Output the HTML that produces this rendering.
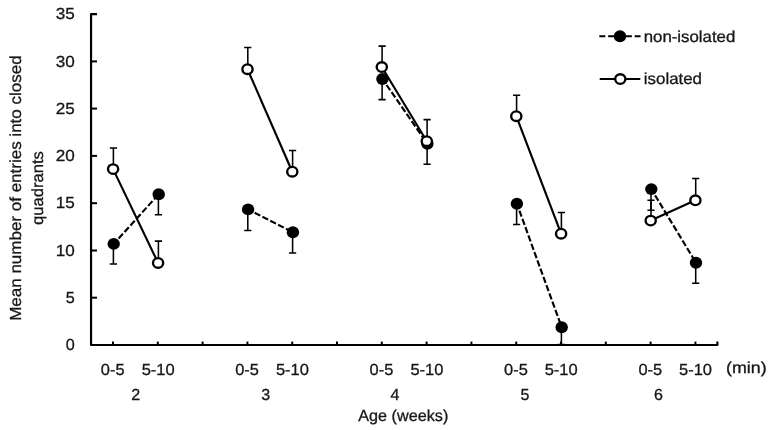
<!DOCTYPE html>
<html lang="en"><head><meta charset="utf-8"><title>Chart</title>
<style>html,body{margin:0;padding:0;background:#fff}svg{display:block;will-change:transform}text{text-rendering:geometricPrecision;font-family:"Liberation Sans",sans-serif;font-size:16px;fill:#161616;stroke:#161616;stroke-width:0.3px}.n{font-size:16px}</style></head><body>
<svg width="771" height="430" viewBox="0 0 771 430">
<rect width="771" height="430" fill="#fff"/>
<path d="M97 14.05H91.05V345.0H717.4V341.6" stroke="#000" stroke-width="2.2" fill="none" stroke-linejoin="round"/>
<g stroke="#000" stroke-width="2" fill="none">
<path d="M91.05 297.7H97"/>
<path d="M91.05 250.5H97"/>
<path d="M91.05 203.2H97"/>
<path d="M91.05 155.9H97"/>
<path d="M91.05 108.6H97"/>
<path d="M91.05 61.4H97"/>
<path d="M113.0 345.0V341.6"/>
<path d="M157.8 345.0V341.6"/>
<path d="M202.6 345.0V341.6"/>
<path d="M247.4 345.0V341.6"/>
<path d="M292.2 345.0V341.6"/>
<path d="M337.0 345.0V341.6"/>
<path d="M381.8 345.0V341.6"/>
<path d="M426.6 345.0V341.6"/>
<path d="M471.4 345.0V341.6"/>
<path d="M516.2 345.0V341.6"/>
<path d="M561.0 345.0V341.6"/>
<path d="M605.8 345.0V341.6"/>
<path d="M650.6 345.0V341.6"/>
<path d="M695.4 345.0V341.6"/>
</g>
<text x="74.8" y="350.25" class="n" text-anchor="end" textLength="9.0" lengthAdjust="spacingAndGlyphs">0</text>
<text x="74.8" y="302.98" class="n" text-anchor="end" textLength="9.0" lengthAdjust="spacingAndGlyphs">5</text>
<text x="74.8" y="255.71" class="n" text-anchor="end" textLength="19.0" lengthAdjust="spacingAndGlyphs">10</text>
<text x="74.8" y="208.44" class="n" text-anchor="end" textLength="19.0" lengthAdjust="spacingAndGlyphs">15</text>
<text x="74.8" y="161.17" class="n" text-anchor="end" textLength="19.0" lengthAdjust="spacingAndGlyphs">20</text>
<text x="74.8" y="113.90" class="n" text-anchor="end" textLength="19.0" lengthAdjust="spacingAndGlyphs">25</text>
<text x="74.8" y="66.63" class="n" text-anchor="end" textLength="19.0" lengthAdjust="spacingAndGlyphs">30</text>
<text x="74.8" y="19.25" class="n" text-anchor="end" textLength="19.0" lengthAdjust="spacingAndGlyphs">35</text>
<g stroke="#000" stroke-width="1.55" fill="none">
<path d="M113.4 243.9V264.0M109.8 264.0H117.0"/>
<path d="M158.4 194.2V214.8M154.8 214.8H162.0"/>
<path d="M247.8 209.4V230.4M244.2 230.4H251.4"/>
<path d="M292.6 232.3V253.0M289.0 253.0H296.2"/>
<path d="M382.1 79.0V99.6M378.5 99.6H385.7"/>
<path d="M427.1 143.8V164.2M423.5 164.2H430.7"/>
<path d="M516.6 203.8V224.4M513.0 224.4H520.2"/>
<path d="M561.4 327.3V344.5M557.8 344.5H565.0"/>
<path d="M651.0 189.1V210.2M647.4 210.2H654.6"/>
<path d="M695.7 262.7V283.2M692.1 283.2H699.3"/>
</g>
<g stroke="#000" stroke-width="2.15" stroke-dasharray="6.4 2.4" stroke-dashoffset="1.5" fill="none">
<path d="M113.7 243.9L158.7 194.2"/>
<path d="M248.1 209.4L292.9 232.3"/>
<path d="M382.4 79.0L427.4 143.8"/>
<path d="M516.9 203.8L561.7 327.3"/>
<path d="M651.3 189.1L696.0 262.7"/>
</g>
<g fill="#000">
<ellipse cx="113.7" cy="243.9" rx="6.2" ry="5.95"/>
<ellipse cx="158.7" cy="194.2" rx="6.2" ry="5.95"/>
<ellipse cx="248.1" cy="209.4" rx="6.2" ry="5.95"/>
<ellipse cx="292.9" cy="232.3" rx="6.2" ry="5.95"/>
<ellipse cx="382.4" cy="79.0" rx="6.2" ry="5.95"/>
<ellipse cx="427.4" cy="143.8" rx="6.2" ry="5.95"/>
<ellipse cx="516.9" cy="203.8" rx="6.2" ry="5.95"/>
<ellipse cx="561.7" cy="327.3" rx="6.2" ry="5.95"/>
<ellipse cx="651.3" cy="189.1" rx="6.2" ry="5.95"/>
<ellipse cx="696.0" cy="262.7" rx="6.2" ry="5.95"/>
</g>
<g stroke="#000" stroke-width="1.55" fill="none">
<path d="M113.4 169.1V148.0M109.8 148.0H117.0"/>
<path d="M158.4 262.9V241.1M154.8 241.1H162.0"/>
<path d="M247.8 69.2V47.4M244.2 47.4H251.4"/>
<path d="M292.6 171.7V150.4M289.0 150.4H296.2"/>
<path d="M382.1 67.0V46.1M378.5 46.1H385.7"/>
<path d="M427.1 141.2V119.6M423.5 119.6H430.7"/>
<path d="M516.6 116.2V95.3M513.0 95.3H520.2"/>
<path d="M561.4 233.7V212.5M557.8 212.5H565.0"/>
<path d="M651.0 220.6V200.2M647.4 200.2H654.6"/>
<path d="M695.7 200.3V178.5M692.1 178.5H699.3"/>
</g>
<g stroke="#000" stroke-width="2.15" fill="none">
<path d="M113.1 169.1L158.1 262.9"/>
<path d="M247.5 69.2L292.3 171.7"/>
<path d="M381.8 67.0L426.8 141.2"/>
<path d="M516.3 116.2L561.1 233.7"/>
<path d="M650.7 220.6L695.4 200.3"/>
</g>
<g fill="#fff" stroke="#000" stroke-width="2.35">
<ellipse cx="113.1" cy="169.1" rx="5.10" ry="4.80"/>
<ellipse cx="158.1" cy="262.9" rx="5.10" ry="4.80"/>
<ellipse cx="247.5" cy="69.2" rx="5.10" ry="4.80"/>
<ellipse cx="292.3" cy="171.7" rx="5.10" ry="4.80"/>
<ellipse cx="381.8" cy="67.0" rx="5.10" ry="4.80"/>
<ellipse cx="426.8" cy="141.2" rx="5.10" ry="4.80"/>
<ellipse cx="516.3" cy="116.2" rx="5.10" ry="4.80"/>
<ellipse cx="561.1" cy="233.7" rx="5.10" ry="4.80"/>
<ellipse cx="650.7" cy="220.6" rx="5.10" ry="4.80"/>
<ellipse cx="695.4" cy="200.3" rx="5.10" ry="4.80"/>
</g>
<path d="M599.3 36.2H640.6" stroke="#000" stroke-width="2.15" stroke-dasharray="6 2.85" fill="none"/>
<ellipse cx="620" cy="36.2" rx="6.2" ry="5.95" fill="#000"/>
<path d="M599.7 79.0H640.3" stroke="#000" stroke-width="2.15" fill="none"/>
<ellipse cx="620.3" cy="79.1" rx="5.10" ry="4.80" fill="#fff" stroke="#000" stroke-width="2.35"/>
<text x="643.7" y="42.3" textLength="91.6" lengthAdjust="spacingAndGlyphs">non-isolated</text>
<text x="643.8" y="84.3" textLength="58.2" lengthAdjust="spacingAndGlyphs">isolated</text>
<text x="112.7" y="375.3" class="n" text-anchor="middle" textLength="23.7" lengthAdjust="spacingAndGlyphs">0-5</text>
<text x="158.2" y="375.3" class="n" text-anchor="middle" textLength="33" lengthAdjust="spacingAndGlyphs">5-10</text>
<text x="247.1" y="375.3" class="n" text-anchor="middle" textLength="23.7" lengthAdjust="spacingAndGlyphs">0-5</text>
<text x="292.4" y="375.3" class="n" text-anchor="middle" textLength="33" lengthAdjust="spacingAndGlyphs">5-10</text>
<text x="381.4" y="375.3" class="n" text-anchor="middle" textLength="23.7" lengthAdjust="spacingAndGlyphs">0-5</text>
<text x="426.9" y="375.3" class="n" text-anchor="middle" textLength="33" lengthAdjust="spacingAndGlyphs">5-10</text>
<text x="515.9" y="375.3" class="n" text-anchor="middle" textLength="23.7" lengthAdjust="spacingAndGlyphs">0-5</text>
<text x="561.2" y="375.3" class="n" text-anchor="middle" textLength="33" lengthAdjust="spacingAndGlyphs">5-10</text>
<text x="650.3" y="375.3" class="n" text-anchor="middle" textLength="23.7" lengthAdjust="spacingAndGlyphs">0-5</text>
<text x="695.5" y="375.3" class="n" text-anchor="middle" textLength="33" lengthAdjust="spacingAndGlyphs">5-10</text>
<text x="135.7" y="399.9" class="n" text-anchor="middle">2</text>
<text x="265.7" y="399.9" class="n" text-anchor="middle">3</text>
<text x="394.9" y="399.9" class="n" text-anchor="middle">4</text>
<text x="524.9" y="399.9" class="n" text-anchor="middle">5</text>
<text x="658.5" y="399.9" class="n" text-anchor="middle">6</text>
<text x="726" y="373.2" textLength="40.6" lengthAdjust="spacingAndGlyphs">(min)</text>
<text x="358.3" y="421.3" textLength="90" lengthAdjust="spacingAndGlyphs">Age (weeks)</text>
<text transform="translate(21.4 320.8) rotate(-90)" textLength="265.4" lengthAdjust="spacingAndGlyphs">Mean number of entries into closed</text>
<text transform="translate(42.8 224.9) rotate(-90)" textLength="73.8" lengthAdjust="spacingAndGlyphs">quadrants</text>
</svg></body></html>
